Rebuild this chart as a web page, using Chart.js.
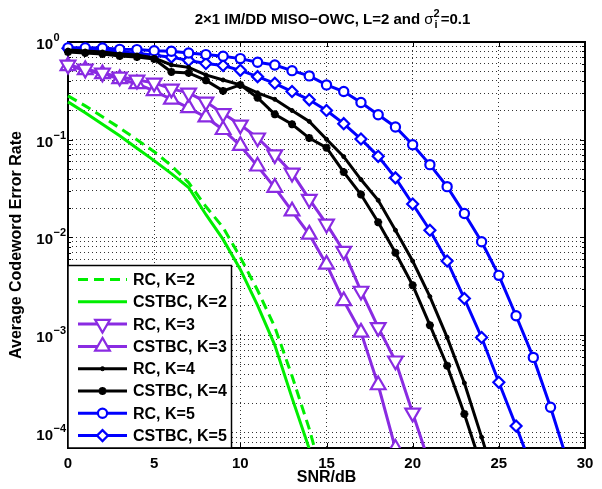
<!DOCTYPE html>
<html>
<head>
<meta charset="utf-8">
<script src="https://cdn.jsdelivr.net/npm/chart.js@4/dist/chart.umd.min.js"></script>
<style>
  html, body { margin:0; padding:0; background:#fff; }
  #wrap { width:602px; height:489px; }
</style>
</head>
<body>
<div id="wrap"><canvas id="berChart" width="602" height="489"></canvas></div>
<script>
/* ---- data (SNR in dB, one point per dB) ---- */
const snrDb = [0,1,2,3,4,5,6,7,8,9,10,11,12,13,14,15,16,17,18,19,20,21,22,23,24,25,26,27,28,29];

const rcK2    = [0.281,0.222,0.172,0.132,0.100,0.0755,0.0543,0.0364,0.0207,0.01265,0.00625,0.00288,0.00121,0.000382,0.00011,0.000025];
const cstbcK2 = [0.244,0.189,0.144,0.110,0.0818,0.0611,0.0450,0.0324,0.01718,0.00955,0.00471,0.00202,0.00079,0.000228,0.0000687,0.000015];

const rcK3    = [0.582,0.530,0.483,0.440,0.409,0.382,0.331,0.302,0.244,0.186,0.142,0.1047,0.0703,0.0457,0.0247,0.01374,0.00724,0.00283,0.00120,0.000547,0.000160,0.0000468];
const cstbcK3 = [0.569,0.518,0.471,0.419,0.372,0.316,0.259,0.212,0.170,0.1265,0.0869,0.0535,0.0324,0.0186,0.01074,0.0053,0.00224,0.001067,0.000309,0.0000692];

const rcK4    = [0.828,0.809,0.791,0.755,0.736,0.687,0.582,0.550,0.460,0.409,0.364,0.302,0.259,0.199,0.154,0.101,0.0671,0.0391,0.0240,0.01186,0.00573,0.00248,0.000948,0.000324,0.0000904,0.0000251];
const cstbcK4 = [0.791,0.773,0.755,0.719,0.703,0.671,0.494,0.483,0.405,0.316,0.364,0.269,0.182,0.144,0.104,0.0828,0.0466,0.0275,0.01432,0.00698,0.00324,0.001265,0.000486,0.000156,0.0000447];

const rcK5    = [0.871,0.871,0.867,0.841,0.836,0.815,0.804,0.773,0.743,0.715,0.676,0.621,0.582,0.509,0.450,0.364,0.311,0.240,0.180,0.135,0.0889,0.0556,0.0331,0.0176,0.00904,0.00409,0.00158,0.000592,0.000183,0.00005];
const cstbcK5 = [0.861,0.841,0.813,0.794,0.767,0.733,0.700,0.646,0.603,0.575,0.513,0.442,0.378,0.311,0.256,0.199,0.146,0.1016,0.0676,0.0407,0.0220,0.01183,0.00573,0.00237,0.000946,0.000329,0.0001175,0.00004];

const xTicks   = [0,5,10,15,20,25,30];
const yDecades = [1e-4,1e-3,1e-2,1e-1,1];
const yMin = 7.2e-5, yMax = 1;

const titleMain = '2\u00d71 IM/DD MISO\u2212OWC, L=2 and ';
const titleTail = '=0.1';
const xTitle = 'SNR/dB';
const yTitle = 'Average Codeword Error Rate';

/* ---- helpers ---- */
const pts = vals => vals.map((v, i) => ({ x: snrDb[i], y: v }));
const GREEN = '#00ee00', PURPLE = '#8a2be2', BLUE = '#0000ff', BLACK = '#000000';
const FONT = 'Liberation Sans, Arial, Helvetica, sans-serif';

function series(label, vals, color, extra) {
  return Object.assign({
    label, data: pts(vals),
    borderColor: color, borderWidth: 3,
    pointStyle: false, pointRadius: 0,
    pointBorderColor: color, pointBackgroundColor: '#fff', pointBorderWidth: 2.2,
    tension: 0, fill: false,
    clip: { left: 10, top: 10, right: 2, bottom: 0 }
  }, extra || {});
}

const datasets = [
  series('RC, K=2', rcK2, GREEN, { borderDash: [10, 6] }),
  series('CSTBC, K=2', cstbcK2, GREEN),
  series('RC, K=3', rcK3, PURPLE, { pointStyle: 'triangle', pointRotation: 180, pointRadius: 8.5 }),
  series('CSTBC, K=3', cstbcK3, PURPLE, { pointStyle: 'triangle', pointRadius: 8.5 }),
  series('RC, K=4', rcK4, BLACK, { pointStyle: 'circle', pointRadius: 2, pointBackgroundColor: BLACK, pointBorderWidth: 1 }),
  series('CSTBC, K=4', cstbcK4, BLACK, { pointStyle: 'star', pointRadius: 4, pointBackgroundColor: BLACK, pointBorderWidth: 2.5 }),
  series('RC, K=5', rcK5, BLUE, { pointStyle: 'circle', pointRadius: 4.6 }),
  series('CSTBC, K=5', cstbcK5, BLUE, { pointStyle: 'rectRot', pointRadius: 5.5 })
];

const isMajor = v => Math.abs(Math.log10(v) - Math.round(Math.log10(v))) < 1e-6;

// MATLAB-like frame: box, inward ticks, custom labels, legend inside the axes
const matlabFrame = {
  id: 'matlabFrame',
  beforeDatasetsDraw(chart) {
    const { ctx, chartArea: a, scales: { x, y } } = chart;
    ctx.save();
    ctx.strokeStyle = '#000';
    ctx.lineWidth = 1;
    ctx.beginPath();
    x.ticks.forEach(t => {
      const px = Math.round(x.getPixelForValue(t.value)) + 0.5;
      ctx.moveTo(px, a.bottom); ctx.lineTo(px, a.bottom - 5);
      ctx.moveTo(px, a.top); ctx.lineTo(px, a.top + 5);
    });
    y.ticks.forEach(t => {
      const py = Math.round(y.getPixelForValue(t.value)) + 0.5;
      const len = isMajor(t.value) ? 5 : 3;
      ctx.moveTo(a.left, py); ctx.lineTo(a.left + len, py);
      ctx.moveTo(a.right, py); ctx.lineTo(a.right - len, py);
    });
    ctx.stroke();
    ctx.lineWidth = 2;
    ctx.strokeRect(a.left, a.top, a.right - a.left, a.bottom - a.top);
    ctx.restore();
  },
  afterDatasetsDraw(chart) {
    const { ctx } = chart;
    const bx = 68, by = 265.5, bw = 163.5, bh = 448 - 265.5;
    ctx.save();
    ctx.fillStyle = '#fff';
    ctx.fillRect(bx, by, bw, bh);
    ctx.strokeStyle = '#000';
    ctx.lineWidth = 1.5;
    ctx.strokeRect(bx, by, bw, bh);
    ctx.font = 'bold 16px ' + FONT;
    ctx.textBaseline = 'middle';
    ctx.textAlign = 'left';
    chart.data.datasets.forEach((ds, i) => {
      const yy = 279.5 + i * 22.3;
      ctx.strokeStyle = ds.borderColor;
      ctx.lineWidth = ds.borderWidth;
      ctx.setLineDash(ds.borderDash || []);
      ctx.beginPath();
      ctx.moveTo(78, yy); ctx.lineTo(127, yy);
      ctx.stroke();
      ctx.setLineDash([]);
      if (ds.pointStyle) {
        ctx.fillStyle = ds.pointBackgroundColor;
        ctx.strokeStyle = ds.pointBorderColor;
        ctx.lineWidth = ds.pointBorderWidth;
        Chart.helpers.drawPoint(ctx, {
          pointStyle: ds.pointStyle, rotation: ds.pointRotation || 0,
          radius: ds.pointRadius, borderWidth: ds.pointBorderWidth
        }, 102.5, yy);
      }
      ctx.fillStyle = '#000';
      ctx.fillText(ds.label, 133, yy + 1);
    });
    ctx.restore();
  },
  afterDraw(chart) {
    const { ctx, chartArea: a, scales: { y } } = chart;
    ctx.save();
    ctx.fillStyle = '#000';
    // y tick labels 10^n
    y.ticks.filter(t => isMajor(t.value)).forEach(t => {
      const py = y.getPixelForValue(t.value);
      const e = Math.round(Math.log10(t.value));
      ctx.font = 'bold 15px ' + FONT;
      ctx.textAlign = 'right';
      ctx.textBaseline = 'alphabetic';
      ctx.fillText('10', 53, py + 7);
      ctx.font = 'bold 11px ' + FONT;
      ctx.textAlign = 'left';
      ctx.fillText(e === 0 ? '0' : '\u2212' + (-e), 53.5, py - 1);
    });
    // title with sigma_i^2
    const fMain = 'bold 15px ' + FONT, fSym = '15px ' + FONT, fSmall = 'bold 11px ' + FONT;
    ctx.textAlign = 'left';
    ctx.textBaseline = 'alphabetic';
    ctx.font = fMain; const w1 = ctx.measureText(titleMain).width, w4 = ctx.measureText(titleTail).width;
    ctx.font = fSym; const w2 = ctx.measureText('\u03c3').width;
    ctx.font = fSmall; const w3 = Math.max(ctx.measureText('2').width, ctx.measureText('i').width) + 1;
    let tx = (a.left + a.right) / 2 - (w1 + w2 + w3 + w4) / 2 + 6;
    const ty = 24;
    ctx.font = fMain; ctx.fillText(titleMain, tx, ty); tx += w1;
    ctx.font = fSym; ctx.fillText('\u03c3', tx, ty); tx += w2;
    ctx.font = fSmall; ctx.fillText('2', tx, ty - 7); ctx.fillText('i', tx + 1, ty + 4); tx += w3;
    ctx.font = fMain; ctx.fillText(titleTail, tx, ty);
    // axis titles
    ctx.font = 'bold 16px ' + FONT;
    ctx.textAlign = 'center';
    ctx.textBaseline = 'middle';
    ctx.fillText(xTitle, (a.left + a.right) / 2, 478);
    ctx.translate(17, (a.top + a.bottom) / 2);
    ctx.rotate(-Math.PI / 2);
    ctx.fillText(yTitle, 0, 0);
    ctx.restore();
  }
};

new Chart(document.getElementById('berChart'), {
  type: 'line',
  data: { datasets },
  options: {
    responsive: false,
    animation: false,
    layout: { padding: { top: 42, right: 17, left: 0, bottom: 0 } },
    plugins: { legend: { display: false }, tooltip: { enabled: false }, title: { display: false } },
    scales: {
      x: {
        type: 'linear', min: xTicks[0], max: xTicks[xTicks.length - 1],
        afterBuildTicks: s => { s.ticks = xTicks.map(v => ({ value: v })); },
        afterFit: s => { s.height = 41; },
        grid: { color: '#333', lineWidth: 1, drawTicks: false },
        border: { display: false, dash: [1, 3] },
        ticks: { color: '#000', padding: 7, font: { family: FONT, size: 15, weight: 'bold' }, maxRotation: 0 }
      },
      y: {
        type: 'logarithmic', min: yMin, max: yMax,
        afterBuildTicks: s => {
          const t = [];
          yDecades.forEach(d => {
            for (let m = 1; m <= 9; m++) {
              const v = m * d / 10;
              if (v >= yMin && v <= yMax) t.push({ value: v });
            }
          });
          t.push({ value: yDecades[yDecades.length - 1] });
          s.ticks = t;
        },
        afterFit: s => { s.width = 68; },
        grid: { color: '#333', lineWidth: 1, drawTicks: false },
        border: { display: false, dash: [1, 3] },
        ticks: { display: false }
      }
    }
  },
  plugins: [matlabFrame]
});
</script>
</body>
</html>
